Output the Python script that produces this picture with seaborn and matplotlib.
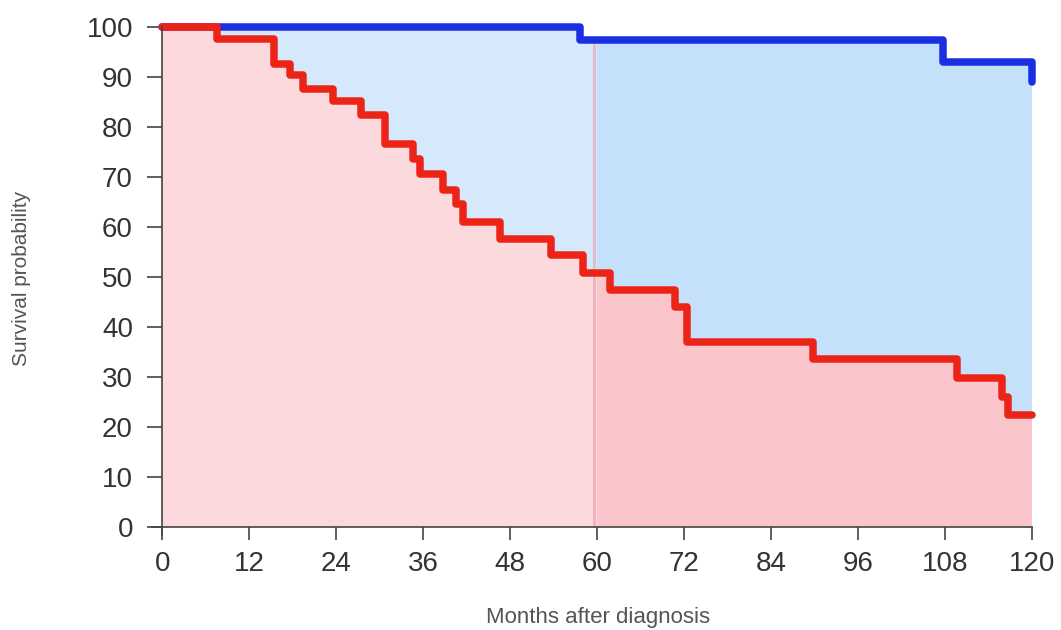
import numpy as np
import pandas as pd
import matplotlib
matplotlib.use("Agg")
import matplotlib.pyplot as plt
from matplotlib.patches import Rectangle
import seaborn as sns

# Kaplan-Meier style step data (month of change, survival % after change)
red_months = [0, 7.5, 15.4, 17.7, 19.5, 23.6, 27.5, 30.8, 34.6, 35.6, 38.8, 40.6, 41.5,
              46.6, 53.7, 58.1, 61.8, 70.8, 72.4, 89.8, 109.6, 115.8, 116.7, 120]
red_surv = [100, 97.7, 92.7, 90.4, 87.7, 85.3, 82.4, 76.7, 73.6, 70.7, 67.4, 64.7, 61.0,
            57.6, 54.4, 50.9, 47.4, 44.0, 37.0, 33.7, 29.8, 26.0, 22.4, 22.4]
blue_months = [0, 57.7, 107.7, 120]
blue_surv = [100, 97.4, 93.0, 89.0]

x_ticks = [0, 12, 24, 36, 48, 60, 72, 84, 96, 108, 120]
y_ticks = [0, 10, 20, 30, 40, 50, 60, 70, 80, 90, 100]
split_month = 60

red_df = pd.DataFrame({"month": red_months, "surv": red_surv})
blue_df = pd.DataFrame({"month": blue_months, "surv": blue_surv})

sns.set_style("white")
plt.rcParams["font.family"] = ["Liberation Sans", "DejaVu Sans"]

fig = plt.figure(figsize=(10.61, 6.30), dpi=100)
ax = fig.add_axes([152 / 1061, 1 - 534.5 / 630, 880 / 1061, 507.5 / 630])

# fills: blue under blue curve, pink under red curve, darker tone after 60 months
left_clip = Rectangle((0, 0), split_month, 100, transform=ax.transData)
right_clip = Rectangle((split_month, 0), 120 - split_month, 100, transform=ax.transData)

fb1 = ax.fill_between(blue_df["month"], blue_df["surv"], step="post", color="#d6e9fc", lw=0)
fb1.set_clip_path(left_clip)
fb2 = ax.fill_between(blue_df["month"], blue_df["surv"], step="post", color="#c4e0fb", lw=0)
fb2.set_clip_path(right_clip)
fr1 = ax.fill_between(red_df["month"], red_df["surv"], step="post", color="#fcd9dc", lw=0)
fr1.set_clip_path(left_clip)
fr2 = ax.fill_between(red_df["month"], red_df["surv"], step="post", color="#fac6cb", lw=0)
fr2.set_clip_path(right_clip)

ax.vlines(split_month - 0.4, 0, 97.4, color="#e88a9a", alpha=0.45, lw=2.2)

sns.lineplot(data=blue_df, x="month", y="surv", ax=ax, color="#1a2fe0", lw=5.4,
             drawstyle="steps-post", estimator=None, sort=False, clip_on=False)
sns.lineplot(data=red_df, x="month", y="surv", ax=ax, color="#ec2418", lw=5.4,
             drawstyle="steps-post", estimator=None, sort=False, clip_on=False)

ax.set_xlim(-1.4, 120)
ax.set_ylim(-1.5, 100)
ax.spines["left"].set_position(("data", 0))
ax.spines["bottom"].set_position(("data", 0))
ax.spines["top"].set_visible(False)
ax.spines["right"].set_visible(False)
for s in ["left", "bottom"]:
    ax.spines[s].set_color("#444444")
    ax.spines[s].set_linewidth(1.2)

ax.set_xticks(x_ticks)
ax.set_yticks(y_ticks)
ax.tick_params(axis="both", direction="out", width=1.2, color="#444444",
               labelsize=20, labelcolor="#333333", left=True, bottom=True)
ax.tick_params(axis="x", length=9.5, pad=8)
ax.tick_params(axis="y", length=11, pad=10)

ax.set_xlabel("")
ax.set_ylabel("")
fig.text(598 / 1061, 1 - 617 / 630, "Months after diagnosis", ha="center", va="center",
         fontsize=16, color="#555555")
fig.text(22 / 1061, 1 - 278 / 630, "Survival probability", ha="center", va="center",
         rotation=90, fontsize=15, color="#555555")

fig.savefig("out.png", dpi=100)
